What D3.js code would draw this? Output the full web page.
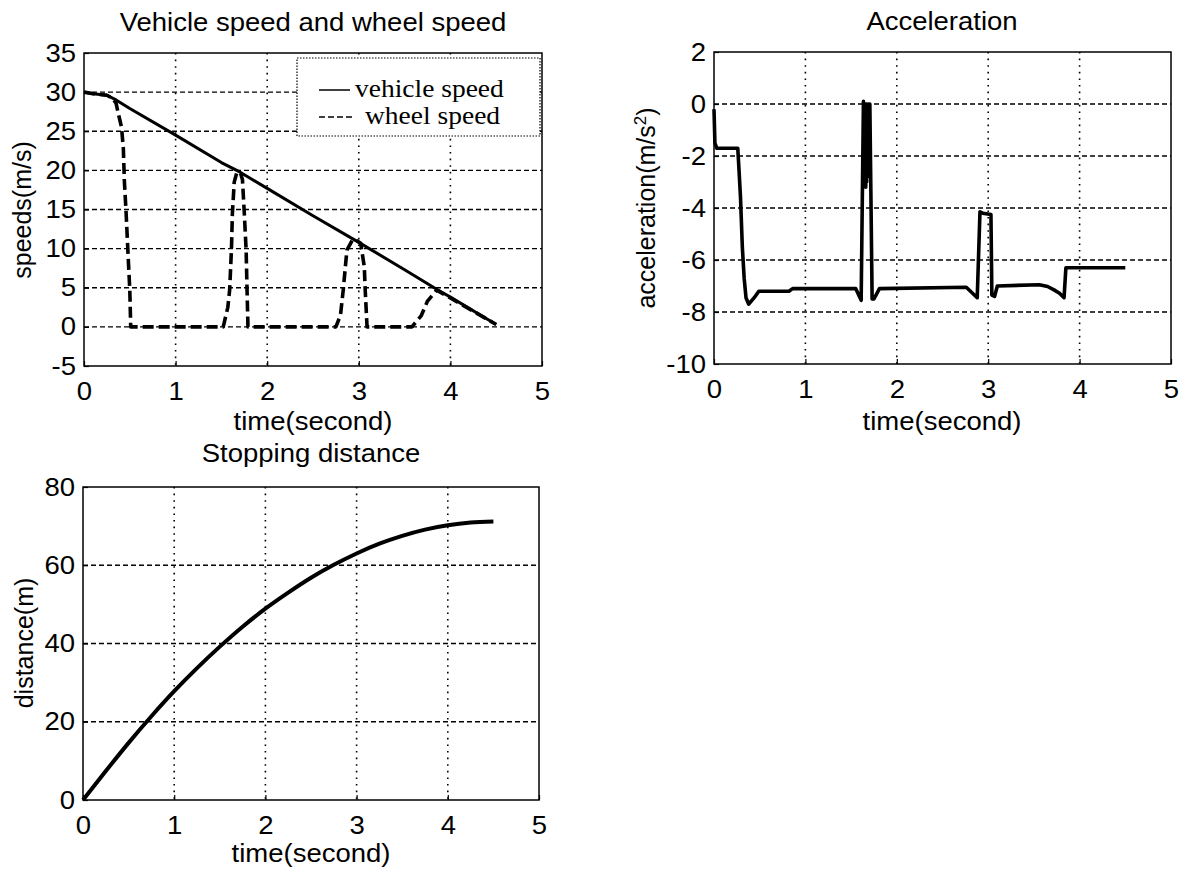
<!DOCTYPE html>
<html lang="en">
<head>
    <meta charset="UTF-8">
    <title>Braking simulation</title>
    <script src="https://cdn.jsdelivr.net/npm/d3@7"></script>
    <style>
        html, body {
            margin: 0;
            padding: 0;
            background: #ffffff;
            overflow: hidden;
        }
        text {
            font-family: Arial, "Liberation Sans", sans-serif;
            fill: #000;
        }
        .legend text {
            font-family: "Times New Roman", "Liberation Serif", serif;
        }
    </style>
</head>
<body>
<script>
    // 数据
    let timeTicks = [0, 1, 2, 3, 4, 5];
    let speedTicks = [-5, 0, 5, 10, 15, 20, 25, 30, 35];
    let accTicks = [-10, -8, -6, -4, -2, 0, 2];
    let distTicks = [0, 20, 40, 60, 80];

    // vehicle speed [t, m/s]
    let vehicleSpeed = [
        [0, 30], [0.1, 29.8], [0.25, 29.6], [0.35, 29], [0.5, 27.9], [1, 24.5],
        [1.5, 21], [1.7, 19.8], [2, 17.7], [2.5, 14.2], [3, 10.8], [3.5, 7.3],
        [3.85, 4.8], [4, 3.8], [4.5, 0.3]
    ];

    // wheel speed [t, m/s]
    let wheelSpeed = [
        [0, 30], [0.1, 29.8], [0.25, 29.6], [0.3, 29.3], [0.35, 28.6], [0.37, 27.5],
        [0.39, 26.5], [0.41, 25.5], [0.43, 22.7], [0.44, 18.8], [0.46, 14.5], [0.48, 9.5],
        [0.5, 4.7], [0.51, 0],
        [1.52, 0], [1.57, 2.5], [1.59, 4.7], [1.61, 10], [1.62, 14.5], [1.64, 18.5],
        [1.67, 19.8], [1.71, 19.6], [1.73, 18.8], [1.75, 14.5], [1.77, 9.8], [1.78, 4.7],
        [1.79, 0],
        [2.75, 0], [2.8, 1.5], [2.83, 4.7], [2.87, 9.8], [2.93, 11.1], [2.98, 11.0],
        [3.02, 10.7], [3.06, 7.7], [3.07, 4.7], [3.09, 0],
        [3.58, 0], [3.68, 1.4], [3.75, 3.3], [3.85, 4.7], [4, 3.7], [4.5, 0.3]
    ];

    // acceleration [t, m/s^2]
    let acceleration = [
        [0, -0.2], [0.01, -1.5], [0.03, -1.7], [0.26, -1.7], [0.27, -2.3], [0.29, -3.6],
        [0.31, -5.5], [0.33, -6.7], [0.35, -7.45], [0.38, -7.7], [0.44, -7.45], [0.49, -7.2],
        [0.82, -7.2], [0.86, -7.1], [1.55, -7.1], [1.61, -7.55], [1.635, 0.1], [1.64, -2.5],
        [1.645, 0], [1.65, -3], [1.655, 0], [1.66, -3.2], [1.665, 0], [1.67, -3],
        [1.675, 0], [1.68, -2.8], [1.685, 0], [1.69, -2.5], [1.695, 0], [1.70, -1.8],
        [1.705, 0], [1.73, -7.5],
        [1.75, -7.5], [1.81, -7.1], [2.76, -7.05], [2.88, -7.45], [2.91, -4.15], [2.94, -4.2],
        [3.03, -4.25], [3.04, -7.35], [3.07, -7.4], [3.1, -7.0], [3.56, -6.95], [3.65, -7.02],
        [3.72, -7.15], [3.78, -7.28], [3.83, -7.45], [3.85, -6.3], [4, -6.3], [4.5, -6.3]
    ];

    // stopping distance [t, m]
    let distance = [
        [0, 0], [0.25, 7.4], [0.5, 14.6], [0.75, 21.4], [1, 27.8], [1.25, 33.7],
        [1.5, 39.2], [1.75, 44.3], [2, 48.9], [2.25, 53], [2.5, 56.8], [2.75, 60.1],
        [3, 63], [3.25, 65.5], [3.5, 67.5], [3.75, 69.1], [4, 70.2], [4.25, 70.9],
        [4.5, 71.2]
    ];

    let width = 1188;
    let height = 874;
    let fontSize = 25;
    let stretch = 1.1;

    let svg = d3.select('body')
        .append('svg')
        .attr('width', width)
        .attr('height', height);

    // 水平文字 (扫描件略微横向拉伸)
    function label(x, y, txt, anchor) {
        return svg.append('text')
            .attr('transform', `translate(${x},${y}) scale(${stretch},1)`)
            .attr('text-anchor', anchor || 'middle')
            .style('font-size', fontSize + 'px')
            .text(txt);
    }

    function yLabel(x, y, txt) {
        return svg.append('text')
            .attr('transform', `translate(${x},${y}) rotate(-90)`)
            .attr('text-anchor', 'middle')
            .style('font-size', fontSize + 'px')
            .text(txt);
    }

    function panel(opt) {
        let x = d3.scaleLinear().domain([0, 5]).range([opt.left, opt.right]);
        let y = d3.scaleLinear().domain(opt.yDomain).range([opt.bottom, opt.top]);
        let g = svg.append('g');

        // 网格
        g.append('g')
            .selectAll('line')
            .data(timeTicks.slice(1, -1))
            .enter().append('line')
            .attr('x1', d => x(d)).attr('x2', d => x(d))
            .attr('y1', opt.top).attr('y2', opt.bottom)
            .attr('stroke', '#000')
            .attr('stroke-width', 1.6)
            .attr('stroke-dasharray', '1.6,5');

        g.append('g')
            .selectAll('line')
            .data(opt.yTicks.slice(1, -1))
            .enter().append('line')
            .attr('x1', opt.left).attr('x2', opt.right)
            .attr('y1', d => y(d)).attr('y2', d => y(d))
            .attr('stroke', '#000')
            .attr('stroke-width', 1.3)
            .attr('stroke-dasharray', '5,3');

        // 坐标轴
        let xAxis = g.append('g')
            .attr('transform', `translate(0,${opt.bottom})`)
            .call(d3.axisBottom(x).tickValues(timeTicks).tickFormat(d => String(d))
                .tickSize(-5).tickPadding(16));
        let yAxis = g.append('g')
            .attr('transform', `translate(${opt.left},0)`)
            .call(d3.axisLeft(y).tickValues(opt.yTicks).tickFormat(d => String(d))
                .tickSize(-5).tickPadding(8));

        [xAxis, yAxis].forEach(a => {
            a.select('.domain').remove();
            a.selectAll('.tick line').attr('stroke', '#000').attr('stroke-width', 1.2);
            a.selectAll('.tick text')
                .style('font-size', fontSize + 'px')
                .style('font-family', 'Arial, "Liberation Sans", sans-serif')
                .attr('fill', '#000');
        });
        xAxis.selectAll('.tick text').attr('transform', `scale(${stretch},1)`);
        yAxis.selectAll('.tick text')
            .attr('transform', `scale(${stretch},1)`)
            .attr('x', -8 / stretch);

        // 边框
        g.append('rect')
            .attr('x', opt.left).attr('y', opt.top)
            .attr('width', opt.right - opt.left)
            .attr('height', opt.bottom - opt.top)
            .attr('fill', 'none')
            .attr('stroke', '#000')
            .attr('stroke-width', 1.5);

        return {x: x, y: y, g: g};
    }

    function drawLine(p, data, sw, dash, curve) {
        let line = d3.line()
            .curve(curve || d3.curveLinear)
            .x(d => p.x(d[0]))
            .y(d => p.y(d[1]));
        let path = p.g.append('path')
            .datum(data)
            .attr('d', line)
            .attr('fill', 'none')
            .attr('stroke', '#000')
            .attr('stroke-width', sw)
            .attr('stroke-linejoin', 'round');
        if (dash) {
            path.attr('stroke-dasharray', dash);
        }
        return path;
    }

    // 速度
    let p1 = panel({left: 84, right: 542, top: 53, bottom: 366, yDomain: [-5, 35], yTicks: speedTicks});
    drawLine(p1, vehicleSpeed, 3, null);
    drawLine(p1, wheelSpeed, 3.6, '11,5');
    label(313, 31, 'Vehicle speed and wheel speed');
    label(313, 430, 'time(second)');
    yLabel(31, 210, 'speeds(m/s)');

    // 图例
    let legend = svg.append('g').classed('legend', true);
    legend.append('rect')
        .attr('x', 297).attr('y', 58)
        .attr('width', 243).attr('height', 78)
        .attr('fill', '#fff')
        .attr('stroke', '#000')
        .attr('stroke-width', 1.2)
        .attr('stroke-dasharray', '1.5,1.5');
    let legendItems = [
        {name: 'vehicle speed', dash: null, y: 90, tx: 355, ty: 97},
        {name: 'wheel speed', dash: '6,3', y: 117, tx: 365, ty: 124}
    ];
    legendItems.forEach(d => {
        legend.append('line')
            .attr('x1', 319).attr('x2', d.dash ? 352 : 350)
            .attr('y1', d.y).attr('y2', d.y)
            .attr('stroke', '#000')
            .attr('stroke-width', 1.5)
            .attr('stroke-dasharray', d.dash);
        legend.append('text')
            .attr('transform', `translate(${d.tx},${d.ty}) scale(${stretch},1)`)
            .style('font-size', '25px')
            .text(d.name);
    });

    // 加速度
    let p2 = panel({left: 714, right: 1171, top: 52, bottom: 364, yDomain: [-10, 2], yTicks: accTicks});
    drawLine(p2, acceleration, 3.6, null);
    label(942, 30, 'Acceleration');
    label(942, 430, 'time(second)');
    let accLabel = yLabel(655, 208, 'acceleration(m/s');
    accLabel.append('tspan').attr('dy', -9).style('font-size', '17px').text('2');
    accLabel.append('tspan').attr('dy', 9).text(')');

    // 制动距离
    let p3 = panel({left: 83, right: 539, top: 487, bottom: 800, yDomain: [0, 80], yTicks: distTicks});
    drawLine(p3, distance, 4, null, d3.curveMonotoneX);
    label(311, 462, 'Stopping distance');
    label(311, 862, 'time(second)');
    yLabel(33, 643, 'distance(m)');
</script>
</body>
</html>
